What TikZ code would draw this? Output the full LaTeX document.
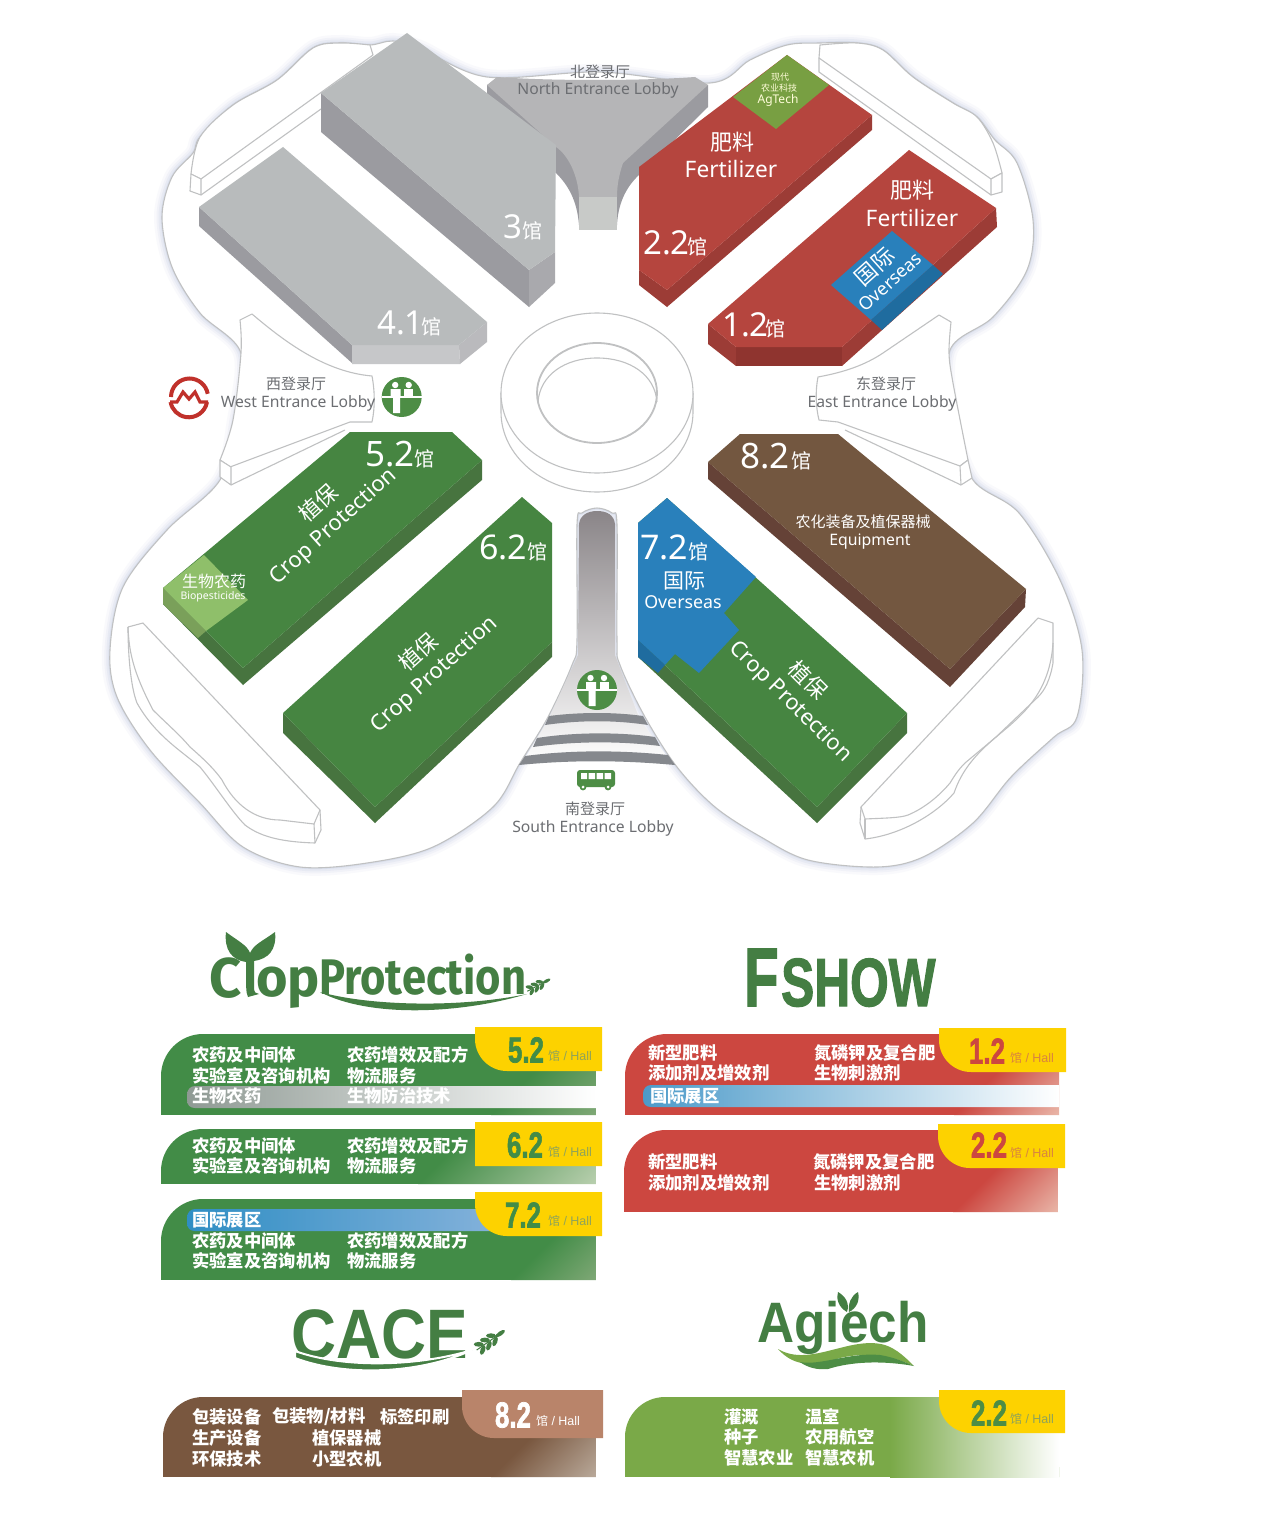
\documentclass[tikz,border=0pt]{standalone}
\usepackage{fontspec}
\setmainfont{Noto Sans}
\newfontfamily\cjk{Noto Sans CJK SC}
\newfontfamily\lsans{Liberation Sans}
\newfontfamily\heavy{Liberation Sans}[BoldFeatures={FakeBold=2}]
\newfontfamily\firab{Fira Sans}
\definecolor{line}{HTML}{C0C1C2}
\definecolor{glow}{HTML}{8C9CC8}
\definecolor{gtop}{HTML}{B8BBBC}
\definecolor{gside}{HTML}{9B9BA0}
\definecolor{gface}{HTML}{A9A9AD}
\definecolor{gfront}{HTML}{C6C7C9}
\definecolor{gfunnel}{HTML}{B5B5B7}
\definecolor{gneck}{HTML}{C8CAC8}
\definecolor{rtop}{HTML}{B5453E}
\definecolor{rside}{HTML}{9C3C36}
\definecolor{rfront}{HTML}{8F342F}
\definecolor{btop}{HTML}{2980BB}
\definecolor{bside}{HTML}{1F6C9F}
\definecolor{gntop}{HTML}{468541}
\definecolor{gnside}{HTML}{47743F}
\definecolor{lgtop}{HTML}{8FBF6A}
\definecolor{lgside}{HTML}{7AA05A}
\definecolor{agri}{HTML}{789F42}
\definecolor{brtop}{HTML}{735740}
\definecolor{brside}{HTML}{654237}
\definecolor{labelgray}{HTML}{6C6E72}
\definecolor{icongreen}{HTML}{4D8D45}
\definecolor{logogreen}{HTML}{447E43}
\definecolor{tagyellow}{HTML}{FDD200}
\definecolor{panelgreen}{HTML}{428C47}
\definecolor{panelred}{HTML}{CC4740}
\definecolor{panelbrown}{HTML}{79573F}
\definecolor{panelag}{HTML}{7AA948}
\definecolor{tagbrown}{HTML}{B9846A}
\definecolor{stripe}{HTML}{85888D}
\definecolor{metrored}{HTML}{C0312B}
\definecolor{hallgreen}{HTML}{8FA35A}
\definecolor{hallred}{HTML}{D9833F}
\definecolor{neckA}{HTML}{8A8588}
\definecolor{neckB}{HTML}{C0BBBC}
\definecolor{fadeG}{HTML}{7FA876}
\definecolor{fadeGL}{HTML}{B8CFAE}
\definecolor{bandGray}{HTML}{8F9A94}
\definecolor{bandBlue}{HTML}{2F8EC4}
\definecolor{bandBlueL}{HTML}{8AB4DC}
\definecolor{bandBlueR}{HTML}{4C9AC9}
\definecolor{fadeR}{HTML}{E9B6A8}
\definecolor{fadeB}{HTML}{B9A99A}
\colorlet{pA}{white}\colorlet{pB}{white}
\pgfdeclarehorizontalshading[pA,pB]{panelfade}{100bp}{color(0bp)=(pA); color(50bp)=(pA); color(85.4bp)=(pB); color(100bp)=(pB)}
% x1 y1 x2 y2 r base end d
\newcommand\panelbox[8]{%
  \colorlet{pA}{#6}\colorlet{pB}{#7}%
  \begin{scope}
  \clip (#1,#4) -- ({#1},{#2+#5}) .. controls ({#1},{#2+.45*#5}) and ({#1+.45*#5},{#2}) .. ({#1+#5},{#2}) -- (#3,#2) -- (#3,#4) -- cycle;
  \fill[#6] (#1,#2) rectangle (#3,#4);
  \shade[shading=panelfade,shading angle=-45] ({#3-#8},{#4-#8}) rectangle (#3,#4);
  \end{scope}}
% x1 y1 x2 y2 r colour
\newcommand\tagbox[6]{%
  \fill[#6] (#1,#2) -- (#3,#2) -- (#3,#4) -- ({#1+#5},{#4}) .. controls ({#1+.45*#5},{#4}) and ({#1},{#4-.45*#5}) .. ({#1},{#4-#5}) -- cycle;}
% cx cy num colour  hallx hally hallcolour
\newcommand\tagtext[7]{%
  \node[tagnum,text=#4] at (#1,#2) {#3};
  \node[inner sep=0,text=#7] at (#5,#6) {{\cjk\fontsize{12}{12}\selectfont 馆}{\lsans\fontsize{12.5}{13}\selectfont\ / Hall}};}
\newcommand\hl[2][35]{{\fontsize{#1}{35}\selectfont #2}{\cjk\fontsize{20}{20}\selectfont 馆}}
\newcommand\recep[2]{%
  \begin{scope}[shift={(#1,#2)}]
  \fill[icongreen] (0,0) circle (20);
  \fill[white] (-20,-1) rectangle (20,1);
  \fill[white] (-6.5,-12) circle (3.2) (7,-12) circle (3.2);
  \fill[white] (-11,-8) rectangle (-1,-1) (-8.5,-1) rectangle (-1.5,16);
  \fill[white] (2.5,-8) rectangle (11.5,-1);
  \end{scope}}
\newcommand\wheat[4]{% x y rot scale
  \begin{scope}[shift={(#1,#2)},rotate=#3,scale=#4]
  \draw[logogreen,line width=1] (-14,0) -- (8,0);
  \foreach \s in {-10,-4,2}{
    \fill[logogreen] (\s,-2.8) ellipse [x radius=4,y radius=1.9,rotate=-35];
    \fill[logogreen] (\s,2.8) ellipse [x radius=4,y radius=1.9,rotate=35];}
  \fill[logogreen] (9,0) ellipse [x radius=4.5,y radius=1.7];
  \end{scope}}
\tikzset{
  lbl/.style={inner sep=0,text=labelgray,font=\fontsize{15.7}{16}\selectfont},
  lblc/.style={inner sep=0,text=labelgray,font=\cjk\fontsize{15}{15}\selectfont},
  hallno/.style={inner sep=0,anchor=base west,text=white},
  wen/.style={inner sep=0,text=white,font=\fontsize{22}{22}\selectfont},
  wcn/.style={inner sep=0,text=white,font=\cjk\fontsize{22}{22}\selectfont},
  row/.style={inner sep=0,anchor=west,text=white,font=\cjk\bfseries\fontsize{17.3}{17.3}\selectfont},
  tagnum/.style={inner sep=0,xscale=.72,transform shape,font=\heavy\bfseries\fontsize{36}{36}\selectfont},
  wire/.style={draw=line,line width=1.1,fill=white,line join=round}
}
\def\contour{plot[smooth cycle,tension=.55] coordinates {
 (393,41)(420,48)(487,77)(600,72)(710,83)(750,60)(787,45)(820,43)(857,43)(883,50)(913,77)(953,103)(977,117)(995,140)(1017,163)(1033,220)(1027,270)(993,317)(950,350)
 (952,420)(973,480)(1019,513)(1060,580)(1082,650)(1077,717)(1054,737)(1011,777)(973,823)(923,857)(877,867)(808,860)(761,837)(715,807)(677,767)(645,717)(620,665)(617,640)(617,525)(612,513)(597,508)(582,513)(577,525)(577,640)(572,665)(548,717)(520,763)(493,807)(433,847)(367,863)(300,867)(243,847)(200,803)(150,750)(117,697)(110,650)(123,587)(167,530)(220,480)(235,420)(241,353)(200,313)(172,267)(162,217)(172,177)(193,153)(200,137)(233,105)(277,80)(313,48)(340,43)(370,45)}}
\begin{document}
\begin{tikzpicture}[x=1pt,y=-1pt]
\useasboundingbox (0,0) rectangle (1276,1533);
\fill[white] (0,0) rectangle (1276,1533);
% glow and body
\foreach \w/\o in {16/.05,11/.07,7/.09,3/.12}{\draw[glow,line width=\w,opacity=\o] \contour;}
\draw[wire] \contour;
% central ring
\draw[wire] (501,393) -- (501,412) arc[start angle=180,end angle=0,x radius=96,y radius=80] -- (693,393);
\draw[wire] (597,393) ellipse [x radius=96,y radius=80];
\draw[line,line width=1.1] (538,402) .. controls (540,375) and (565,358) .. (597,358) .. controls (630,358) and (655,375) .. (657,402);
\draw[line,line width=1.8] (597,393) ellipse [x radius=60,y radius=50];
% upper wings
\draw[wire] plot[smooth,tension=.55] coordinates {(191,174)(200,137)(233,105)(277,80)(313,48)(340,43)(370,45)} -- (373,55) -- (201,179) -- cycle;
\draw[wire] (191,174) -- (201,179) -- (201,195) -- (190,191) -- cycle;
\draw[line,line width=1.1] (201,195) -- (321,109);
\draw[wire] plot[smooth,tension=.55] coordinates {(1002,173)(993,143)(977,117)(953,103)(913,77)(883,50)(857,43)(820,45)} -- (819,58) -- (991,179) -- cycle;
\draw[wire] (1002,173) -- (991,179) -- (991,195) -- (1002,192) -- cycle;
\draw[line,line width=1.1] (991,195) -- (819,72) -- (819,58);
% west lobby
\draw[wire] plot[smooth,tension=.55] coordinates {(220,460)(233,420)(241,353)(240,320)} -- (252,314) .. controls (285,342) and (325,372) .. (372,376) .. controls (375,392) and (375,408) .. (372,422) -- (350,422) -- (230,467) -- cycle;
\draw[wire] (220,460) -- (231,467) -- (231,485) -- (220,477) -- cycle;
\draw[line,line width=1.1] (231,485) -- (345,430);
% east lobby
\draw[wire] plot[smooth,tension=.55] coordinates {(968,460)(953,383)(949,353)(951,322)} -- (939,315) -- (883,353) .. controls (865,365) and (845,372) .. (818,377) .. controls (815,392) and (816,408) .. (819,420) -- (838,422) -- (960,466) -- cycle;
\draw[wire] (968,460) -- (960,466) -- (961,485) -- (972,478) -- cycle;
\draw[line,line width=1.1] (961,485) -- (845,430);
% lower wings
\draw[wire] (128,627) -- (143,623) -- (320,810) -- (321,830) -- (315,843)
  .. controls (285,842) and (262,838) .. (245,825) .. controls (232,812) and (215,785) .. (200,767)
  .. controls (180,750) and (155,735) .. (137,703) .. controls (130,685) and (128,650) .. (128,627);
\draw[line,line width=1.1] (128,627) .. controls (129,650) and (132,670) .. (153,710) .. controls (165,722) and (180,735) .. (190,747) .. controls (205,760) and (215,770) .. (222,780) .. controls (235,805) and (255,820) .. (280,820) -- (314,824) -- (320,810);
\draw[line,line width=1.1] (314,824) -- (315,843);
\draw[wire] (1038,618) -- (1053,623) -- (1053,663) .. controls (1050,680) and (1045,690) .. (1038,697)
  -- (996,737) .. controls (975,755) and (962,770) .. (954,793) .. controls (935,815) and (900,835) .. (865,839) -- (860,823) -- (861,807) -- cycle;
\draw[line,line width=1.1] (861,807) -- (865,819) .. controls (885,818) and (900,818) .. (908,815) .. controls (925,808) and (940,795) .. (950,783) .. controls (955,775) and (958,770) .. (965,763) -- (1008,727) .. controls (1025,712) and (1050,690) .. (1053,643);
\draw[line,line width=1.1] (865,819) -- (865,839);
% north lobby
\fill[gside] (487,85) -- (487,95) -- (556,173) .. controls (568,185) and (577,200) .. (579,225) -- (617,225) .. controls (618,205) and (625,188) .. (639,175) -- (708,107) -- (708,85) -- cycle;
\fill[gfunnel] (487,85) -- (497,77) .. controls (550,81) and (640,81) .. (695,77) -- (708,85) -- (623,163) .. controls (619,175) and (617,185) .. (617,197) -- (579,197) .. controls (578,175) and (568,155) .. (556,147) -- cycle;
\fill[gneck] (579,197) -- (617,197) -- (617,230) -- (579,230) -- cycle;
% south lobby
\shade[top color=neckA,middle color=neckB,bottom color=white] (579,524) .. controls (580,515) and (588,511) .. (597,511) .. controls (607,511) and (614,515) .. (615,524) -- (615,655) -- (640,720) -- (672,763) -- (522,763) -- (548,720) -- (578,655) -- cycle;
\fill[stripe] (549,716) .. controls (580,712) and (615,712) .. (643,716) -- (648,725) .. controls (615,720) and (580,720) .. (545,725) -- cycle;
\fill[stripe] (537,738) .. controls (575,732) and (620,732) .. (655,737) -- (660,746) .. controls (620,741) and (575,741) .. (533,747) -- cycle;
\fill[stripe] (525,756) .. controls (570,750) and (620,750) .. (668,755) -- (675,765) .. controls (620,760) and (570,760) .. (519,765) -- cycle;
% hall 3
\fill[gside] (321,93) -- (321,132) -- (529,307) -- (529,270) -- cycle;
\fill[gface] (529,270) -- (555,252) -- (555,283) -- (529,307) -- cycle;
\fill[gtop] (407,33) -- (556,145) -- (555,252) -- (529,270) -- (321,93) -- cycle;
% hall 4.1
\fill[gside] (199,207) -- (199,226) -- (352,363) -- (352,345) -- cycle;
\fill[gfront] (352,345) -- (459,345) -- (460,364) -- (352,364) -- cycle;
\fill[gface!80!white] (459,345) -- (487,322) -- (487,342) -- (460,364) -- cycle;
\fill[gtop] (283,147) -- (487,322) -- (459,345) -- (352,345) -- (199,207) -- cycle;
% hall 2.2
\fill[rside] (639,270) -- (667,290) -- (667,307) -- (639,285) -- cycle;
\fill[rside] (667,290) -- (872,115) -- (872,130) -- (667,307) -- cycle;
\fill[rtop] (639,167) -- (787,55) -- (872,115) -- (667,290) -- (639,270) -- cycle;
\fill[agri] (787,55) -- (829,85) -- (776,129) -- (733,97) -- cycle;
% hall 1.2
\fill[rside] (708,324) -- (736,347) -- (736,366) -- (708,344) -- cycle;
\fill[rfront] (736,347) -- (842,347) -- (842,366) -- (736,366) -- cycle;
\fill[rside] (842,347) -- (996,208) -- (997,227) -- (842,366) -- cycle;
\fill[rtop] (909,150) -- (996,208) -- (842,347) -- (736,347) -- (708,324) -- cycle;
\fill[btop] (892,231) -- (933,265) -- (871,320) -- (831,285) -- cycle;
\fill[bside] (933,265) -- (943,274) -- (882,330) -- (871,320) -- cycle;
% hall 5.2
\fill[gnside] (163,588) -- (243,668) -- (243,685) -- (163,604) -- cycle;
\fill[gnside] (243,668) -- (482,460) -- (482,480) -- (243,685) -- cycle;
\fill[gntop] (350,432) -- (452,432) -- (482,460) -- (243,668) -- (163,588) -- cycle;
\fill[lgtop] (204,555) -- (163,588) -- (206,631) -- (248,600) -- cycle;
\fill[lgside] (163,588) -- (206,631) -- (198,638) -- (163,604) -- cycle;
% hall 6.2
\fill[gnside] (283,713) -- (375,807) -- (375,823) -- (283,733) -- cycle;
\fill[gnside] (375,807) -- (552,642) -- (552,657) -- (375,823) -- cycle;
\fill[gntop] (522,497) -- (552,523) -- (552,642) -- (375,807) -- (283,713) -- cycle;
% hall 7.2
\fill[gnside] (638,640) -- (817,807) -- (817,823) -- (638,657) -- cycle;
\fill[gnside] (817,807) -- (907,713) -- (907,733) -- (817,823) -- cycle;
\fill[gntop] (638,523) -- (667,498) -- (907,713) -- (817,807) -- (638,640) -- cycle;
\fill[btop] (638,523) -- (667,498) -- (756,577) -- (724,613) -- (739,630) -- (699,673) -- (675,654) -- (665,665) -- (638,640) -- cycle;
\fill[bside] (638,640) -- (665,665) -- (658,673) -- (638,657) -- cycle;
% hall 8.2
\fill[brside] (708,462) -- (950,669) -- (950,687) -- (708,479) -- cycle;
\fill[brside] (950,669) -- (1026,589) -- (1025,607) -- (950,687) -- cycle;
\fill[brtop] (740,434) -- (838,434) -- (1026,589) -- (950,669) -- (708,462) -- cycle;
% hall numbers
\node[hallno] (h3) at (503,238) {\hl[33]{3}};
\node[hallno] (h41) at (377,334) {\hl[33]{4.1\kern-2pt}};
\node[hallno] (h22) at (643,254) {\hl[33]{2.2\kern-2pt}};
\node[hallno] (h12) at (722,336) {\hl[33]{1.2\kern-3pt}};
\node[hallno] (h52) at (365,466) {\hl{5.2}};
\node[hallno] (h62) at (479,559) {\hl[34]{6.2}};
\node[hallno] (h72) at (640,559) {\hl[34]{7.2}};
\node[hallno] (h82) at (740,468) {\hl{8.2\kern2pt}};
% hall labels
\node[wcn] (f22c) at (732,142) {肥料};
\node[wen,font=\fontsize{22.7}{23}\selectfont] (f22e) at (731,169) {Fertilizer};
\node[wcn] (f12c) at (912,190) {肥料};
\node[wen,font=\fontsize{22.7}{23}\selectfont] (f12e) at (912,218) {Fertilizer};
\node[wcn,font=\cjk\fontsize{9}{9}\selectfont,text=white!85!yellow] (ag1) at (780,77) {现代};
\node[wcn,font=\cjk\fontsize{9}{9}\selectfont,text=white!85!yellow] (ag2) at (779,88) {农业科技};
\node[wen,font=\fontsize{12}{12}\selectfont,text=white!85!yellow] (ag3) at (778,100) {AgTech};
\node[wcn,rotate=42] (o12c) at (875,267) {国际};
\node[wen,rotate=42,font=\fontsize{18}{18}\selectfont] (o12e) at (890,282) {Overseas};
\node[wcn,rotate=42] (c52c) at (318,503) {植保};
\node[wen,rotate=42] (c52e) at (334,527) {Crop Protection};
\node[wcn,rotate=42] (c62c) at (418,652) {植保};
\node[wen,rotate=42] (c62e) at (435,675) {Crop Protection};
\node[wcn,rotate=-45] (c72c) at (808,680) {植保};
\node[wen,rotate=-44.5] (c72e) at (790,702) {Crop Protection};
\node[wcn,font=\cjk\fontsize{16}{16}\selectfont] (b1) at (214,581) {生物农药};
\node[wen,font=\fontsize{10.5}{11}\selectfont] (b2) at (213,597) {Biopesticides};
\node[wcn,font=\cjk\fontsize{21}{21}\selectfont] (o72c) at (684,581) {国际};
\node[wen,font=\fontsize{17.8}{18}\selectfont] (o72e) at (683,602) {Overseas};
\node[wcn,font=\cjk\fontsize{15}{15}\selectfont] (e1) at (863,522) {农化装备及植保器械};
\node[wen,font=\fontsize{15.8}{16}\selectfont] (e2) at (870,542) {Equipment};
% lobby labels
\node[lblc] (nc) at (600,72) {北登录厅};
\node[lbl] (ne) at (598,90) {North Entrance Lobby};
\node[lblc] (wc) at (296,384) {西登录厅};
\node[lbl] (we) at (298,403) {West Entrance Lobby};
\node[lblc] (ec) at (886,384) {东登录厅};
\node[lbl] (ee) at (882,403) {East Entrance Lobby};
\node[lblc] (sc) at (595,809) {南登录厅};
\node[lbl] (se) at (593,828) {South Entrance Lobby};
% icons
\recep{401.7}{397}
\recep{597}{690}
\draw[metrored,line width=4] (171,397) arc[start angle=180,end angle=350,radius=18.5];
\draw[metrored,line width=4] (207,402) arc[start angle=10,end angle=170,radius=18.5];
\draw[metrored,line width=3.2,line join=miter] (170,402) -- (177,402) -- (183,392) -- (189,399) -- (195,392) -- (200,402) -- (208,402);
\fill[icongreen,rounded corners=3] (577,770) rectangle (615,787);
\fill[white] (581,773) rectangle (587,779) (588.5,773) rectangle (595,779) (596.5,773) rectangle (603,779) (604.5,773) rectangle (611,779);
\fill[icongreen] (583,787) circle (3.4) (608,787) circle (3.4);
\fill[white] (583,787) circle (1.5) (608,787) circle (1.5);
% CropProtection logo
\fill[logogreen] (226,932) .. controls (238,941) and (247,945) .. (250,953) .. controls (254,944) and (263,941) .. (275,932) .. controls (277,950) and (268,959) .. (254,961) -- (254,988) .. controls (254,992) and (256,994) .. (259,994) -- (248,997) .. controls (246,992) and (246,990) .. (246,962) .. controls (232,960) and (224,950) .. (226,932) -- cycle;
\node[inner sep=0,anchor=base,text=logogreen,font=\firab\bfseries\fontsize{56}{56}\selectfont,xscale=1,transform shape] (lc) at (226,997) {C};
\node[inner sep=0,anchor=base west,text=logogreen,font=\firab\bfseries\fontsize{54}{54}\selectfont,xscale=1,transform shape] (lop) at (256,996) {op};
\node[inner sep=0,anchor=base west,text=logogreen,font=\firab\bfseries\fontsize{50}{50}\selectfont,xscale=.87,transform shape] (lp) at (319,994) {Protection};
\fill[logogreen] (320,992) .. controls (370,1018) and (460,1014) .. (527,994) .. controls (460,1008) and (370,1006) .. (320,992) -- cycle;
\wheat{539}{985}{28}{.95}
% FSHOW logo
\node[inner sep=0,anchor=base west,text=logogreen,font=\heavy\bfseries\fontsize{83}{83}\selectfont,xscale=.68,transform shape] (ff) at (744,1006) {F};
\node[inner sep=0,anchor=base west,text=logogreen,font=\heavy\bfseries\fontsize{68}{68}\selectfont,xscale=.73,transform shape] (fs) at (781,1006) {SHOW};
% CACE logo
\node[inner sep=0,anchor=base,text=logogreen,font=\lsans\bfseries\fontsize{70}{70}\selectfont,xscale=.89,transform shape] (cc) at (380,1358) {CACE};
\draw[white,line width=2,fill=logogreen] (295,1351) .. controls (345,1369) and (420,1366) .. (472,1350) .. controls (420,1374) and (345,1377) .. (295,1358) -- cycle;
\wheat{491}{1340}{35}{1.25}
% AgTech logo
\node[inner sep=0,anchor=base,text=logogreen,font=\lsans\bfseries\fontsize{57}{57}\selectfont,xscale=.9,transform shape] (at) at (843,1342) {Agiech};
\fill[white] (841,1297) rectangle (856,1311);
\fill[logogreen] (847,1312) .. controls (838,1307) and (836,1298) .. (838,1292) .. controls (845,1296) and (850,1303) .. (847,1312) -- cycle;
\fill[logogreen] (849,1312) .. controls (848,1303) and (851,1296) .. (858,1292) .. controls (860,1300) and (857,1308) .. (849,1312) -- cycle;
\fill[panelag] (778,1349) .. controls (810,1368) and (850,1335) .. (885,1345) .. controls (897,1349) and (906,1358) .. (914,1366) .. controls (890,1355) and (865,1352) .. (840,1358) .. controls (815,1366) and (795,1368) .. (778,1349) -- cycle;
\fill[icongreen] (800,1362) .. controls (820,1366) and (850,1352) .. (880,1355) .. controls (893,1357) and (905,1362) .. (914,1366) .. controls (880,1360) and (850,1362) .. (828,1369) .. controls (818,1370) and (808,1368) .. (800,1362) -- cycle;
% crop protection panels
\panelbox{161}{1034}{596}{1115}{42}{panelgreen}{fadeG}{105}
\shade[left color=bandGray,right color=white] (596,1086) -- (195,1086) .. controls (190,1086) and (187,1090) .. (187,1095) -- (187,1100) .. controls (187,1105) and (190,1108) .. (195,1108) -- (596,1108) -- cycle;
\tagbox{475}{1027}{602}{1071}{32}{tagyellow}
\tagtext{526}{1050}{5.2}{panelgreen}{570}{1056}{hallgreen}
\node[row] (a1) at (192,1055) {农药及中间体};
\node[row] (a2) at (192,1076) {实验室及咨询机构};
\node[row] (a3) at (192,1096) {生物农药};
\node[row] (a4) at (347,1055) {农药增效及配方};
\node[row] (a5) at (347,1076) {物流服务};
\node[row] (a6) at (347,1096) {生物防治技术};
\panelbox{161}{1129}{596}{1184}{42}{panelgreen}{fadeGL}{178}
\tagbox{475}{1122}{602}{1166}{0}{tagyellow}
\tagtext{525}{1145}{6.2}{panelgreen}{570}{1152}{hallgreen}
\node[row] (b1r) at (192,1146) {农药及中间体};
\node[row] (b2r) at (192,1166) {实验室及咨询机构};
\node[row] (b4r) at (347,1146) {农药增效及配方};
\node[row] (b5r) at (347,1166) {物流服务};
\panelbox{161}{1199}{596}{1280}{42}{panelgreen}{fadeG}{85}
\shade[left color=bandBlue,right color=bandBlueL] (520,1209) -- (195,1209) .. controls (190,1209) and (187,1213) .. (187,1218) -- (187,1223) .. controls (187,1228) and (190,1231) .. (195,1231) -- (520,1231) -- cycle;
\tagbox{475}{1192}{602}{1236}{32}{tagyellow}
\tagtext{523}{1215}{7.2}{panelgreen}{570}{1221}{hallgreen}
\node[row] (c3r) at (192,1220) {国际展区};
\node[row] (c1r) at (192,1241) {农药及中间体};
\node[row] (c2r) at (192,1261) {实验室及咨询机构};
\node[row] (c4r) at (347,1241) {农药增效及配方};
\node[row] (c5r) at (347,1261) {物流服务};
% fshow panels
\panelbox{625}{1034}{1059}{1115}{42}{panelred}{fadeR}{105}
\shade[left color=bandBlueR,right color=white] (1059,1085) -- (651,1085) .. controls (646,1085) and (643,1089) .. (643,1094) -- (643,1099) .. controls (643,1104) and (646,1107) .. (651,1107) -- (1059,1107) -- cycle;
\tagbox{939}{1028}{1066}{1072}{32}{tagyellow}
\tagtext{987}{1051}{1.2}{panelred}{1032}{1058}{hallred}
\node[row] (d1r) at (648,1053) {新型肥料};
\node[row] (d2r) at (648,1073) {添加剂及增效剂};
\node[row] (d3r) at (650,1096) {国际展区};
\node[row] (d4r) at (814,1053) {氮磷钾及复合肥};
\node[row] (d5r) at (814,1073) {生物刺激剂};
\panelbox{624}{1130}{1058}{1212}{42}{panelred}{fadeR}{105}
\tagbox{938}{1124}{1065}{1168}{32}{tagyellow}
\tagtext{989}{1145}{2.2}{panelred}{1032}{1153}{hallred}
\node[row] (e1r) at (648,1162) {新型肥料};
\node[row] (e2r) at (648,1183) {添加剂及增效剂};
\node[row] (e4r) at (813,1162) {氮磷钾及复合肥};
\node[row] (e5r) at (814,1183) {生物刺激剂};
% cace panel
\panelbox{163}{1397}{596}{1477}{40}{panelbrown}{fadeB}{105}
\tagbox{462}{1390}{603}{1438}{32}{tagbrown}
\tagtext{513}{1415}{8.2}{white}{558}{1421}{white}
\node[row] (g1) at (192,1417) {包装设备};
\node[row] (g2) at (272,1417) {包装物/材料};
\node[row] (g3) at (380,1417) {标签印刷};
\node[row] (g4) at (192,1438) {生产设备};
\node[row] (g5) at (312,1438) {植保器械};
\node[row] (g6) at (192,1459) {环保技术};
\node[row] (g7) at (312,1459) {小型农机};
% agtech panel
\panelbox{625}{1397}{1059}{1477}{40}{panelag}{panelag}{10}
\shade[left color=panelag,right color=white] (890,1397) rectangle (1059,1477);
\tagbox{939}{1390}{1065}{1433}{32}{tagyellow}
\tagtext{989}{1413}{2.2}{icongreen}{1032}{1419}{hallgreen}
\node[row] (i1) at (724,1417) {灌溉};
\node[row] (i2) at (805,1417) {温室};
\node[row] (i3) at (724,1437) {种子};
\node[row] (i4) at (805,1437) {农用航空};
\node[row] (i5) at (724,1458) {智慧农业};
\node[row] (i6) at (805,1458) {智慧农机};
\end{tikzpicture}
\end{document}
